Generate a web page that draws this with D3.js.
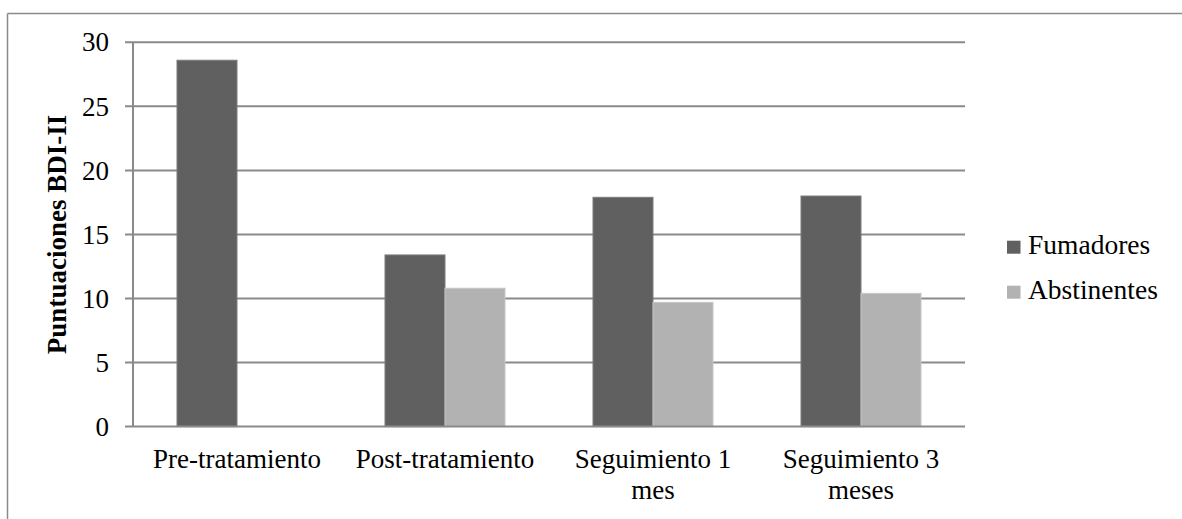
<!DOCTYPE html>
<html>
<head>
<meta charset="utf-8">
<script src="https://cdn.jsdelivr.net/npm/d3@7"></script>
<style>
  html, body { margin: 0; padding: 0; background: #fff; }
  svg { display: block; font-family: "Liberation Serif", serif; }
  text, tspan { font-family: "Liberation Serif", serif; fill: #000; }
</style>
</head>
<body>
<svg id="chart" width="1182" height="519"></svg>
<script>
const categories = ["Pre-tratamiento", "Post-tratamiento", "Seguimiento 1 mes", "Seguimiento 3 meses"];
const categoryLines = [["Pre-tratamiento"], ["Post-tratamiento"], ["Seguimiento 1", "mes"], ["Seguimiento 3", "meses"]];
const seriesNames = ["Fumadores", "Abstinentes"];
const fumadores = [28.6, 13.4, 17.9, 18.0];
const abstinentes = [null, 10.8, 9.7, 10.4];
const yTicks = [0, 5, 10, 15, 20, 25, 30];
const yTitle = "Puntuaciones BDI-II";

const colors = { Fumadores: "#606060", Abstinentes: "#b2b2b2" };
const strokes = { Fumadores: "#7c7c7c", Abstinentes: "#c6c6c6" };
const gridColor = "#8a8a8a";
const FONT = "'Liberation Serif', serif";

const svg = d3.select("#chart");
const plot = { left: 133, right: 965, top: 42.3, bottom: 426.6 };

// outer frame
svg.append("line").attr("x1", 7.5).attr("x2", 1182).attr("y1", 13.5).attr("y2", 13.5)
  .attr("stroke", gridColor).attr("stroke-width", 1.5);
svg.append("line").attr("x1", 7.5).attr("x2", 7.5).attr("y1", 13.5).attr("y2", 519)
  .attr("stroke", gridColor).attr("stroke-width", 1.5);

const y = d3.scaleLinear().domain([0, 30]).range([plot.bottom, plot.top]);
const x0 = d3.scaleBand().domain(categories).range([plot.left, plot.right])
  .paddingInner(0.423).paddingOuter(0.2115);
const x1 = d3.scaleBand().domain(seriesNames).range([0, x0.bandwidth()]);

// gridlines
svg.append("g").selectAll("line").data(yTicks.filter(t => t > 0)).join("line")
  .attr("x1", plot.left - 8).attr("x2", plot.right)
  .attr("y1", d => y(d)).attr("y2", d => y(d))
  .attr("stroke", gridColor).attr("stroke-width", 2);

// bars
const rows = categories.map((c, i) => ({ cat: c, values: [
  { key: "Fumadores", v: fumadores[i] },
  { key: "Abstinentes", v: abstinentes[i] }
]}));
const g = svg.append("g").selectAll("g").data(rows).join("g")
  .attr("transform", d => `translate(${x0(d.cat)},0)`);
g.selectAll("rect").data(d => d.values.filter(e => e.v != null)).join("rect")
  .attr("x", d => x1(d.key))
  .attr("y", d => y(d.v))
  .attr("width", x1.bandwidth())
  .attr("height", d => y(0) - y(d.v))
  .attr("fill", d => colors[d.key])
  .attr("stroke", d => strokes[d.key])
  .attr("stroke-width", 1);

// axis lines and top tick
svg.append("line").attr("x1", plot.left).attr("x2", plot.left)
  .attr("y1", plot.top).attr("y2", plot.bottom)
  .attr("stroke", gridColor).attr("stroke-width", 2);
svg.append("line").attr("x1", plot.left - 8).attr("x2", plot.right)
  .attr("y1", plot.bottom).attr("y2", plot.bottom)
  .attr("stroke", gridColor).attr("stroke-width", 2);

// y tick labels
svg.append("g").selectAll("text").data(yTicks).join("text")
  .attr("x", 109).attr("y", d => y(d))
  .attr("dy", "0.34em")
  .attr("text-anchor", "end")
  .style("font-family", FONT)
  .style("font-size", "27px")
  .text(d => d);

// y title
svg.append("text")
  .attr("transform", `translate(66,234.5) rotate(-90)`)
  .attr("text-anchor", "middle")
  .style("font-family", FONT)
  .style("font-size", "27px").style("font-weight", "bold")
  .text(yTitle);

// x labels
const xl = svg.append("g").selectAll("text").data(categories).join("text")
  .attr("text-anchor", "middle")
  .style("font-family", FONT)
  .style("font-size", "27px")
  .attr("transform", d => `translate(${x0(d) + x0.bandwidth() / 2},467.5)`);
xl.selectAll("tspan").data((d, i) => categoryLines[i]).join("tspan")
  .attr("x", 0).attr("y", (d, i) => i * 31.5)
  .style("font-family", FONT)
  .text(d => d);

// legend
const lg = svg.append("g").selectAll("g").data(seriesNames).join("g")
  .attr("transform", (d, i) => `translate(1007,${240.7 + i * 45})`);
lg.append("rect").attr("width", 13.5).attr("height", 13)
  .attr("fill", d => colors[d]);
lg.append("text").attr("x", 21).attr("y", 13.5)
  .style("font-family", FONT)
  .style("font-size", "27.5px")
  .text(d => d);
</script>
</body>
</html>
